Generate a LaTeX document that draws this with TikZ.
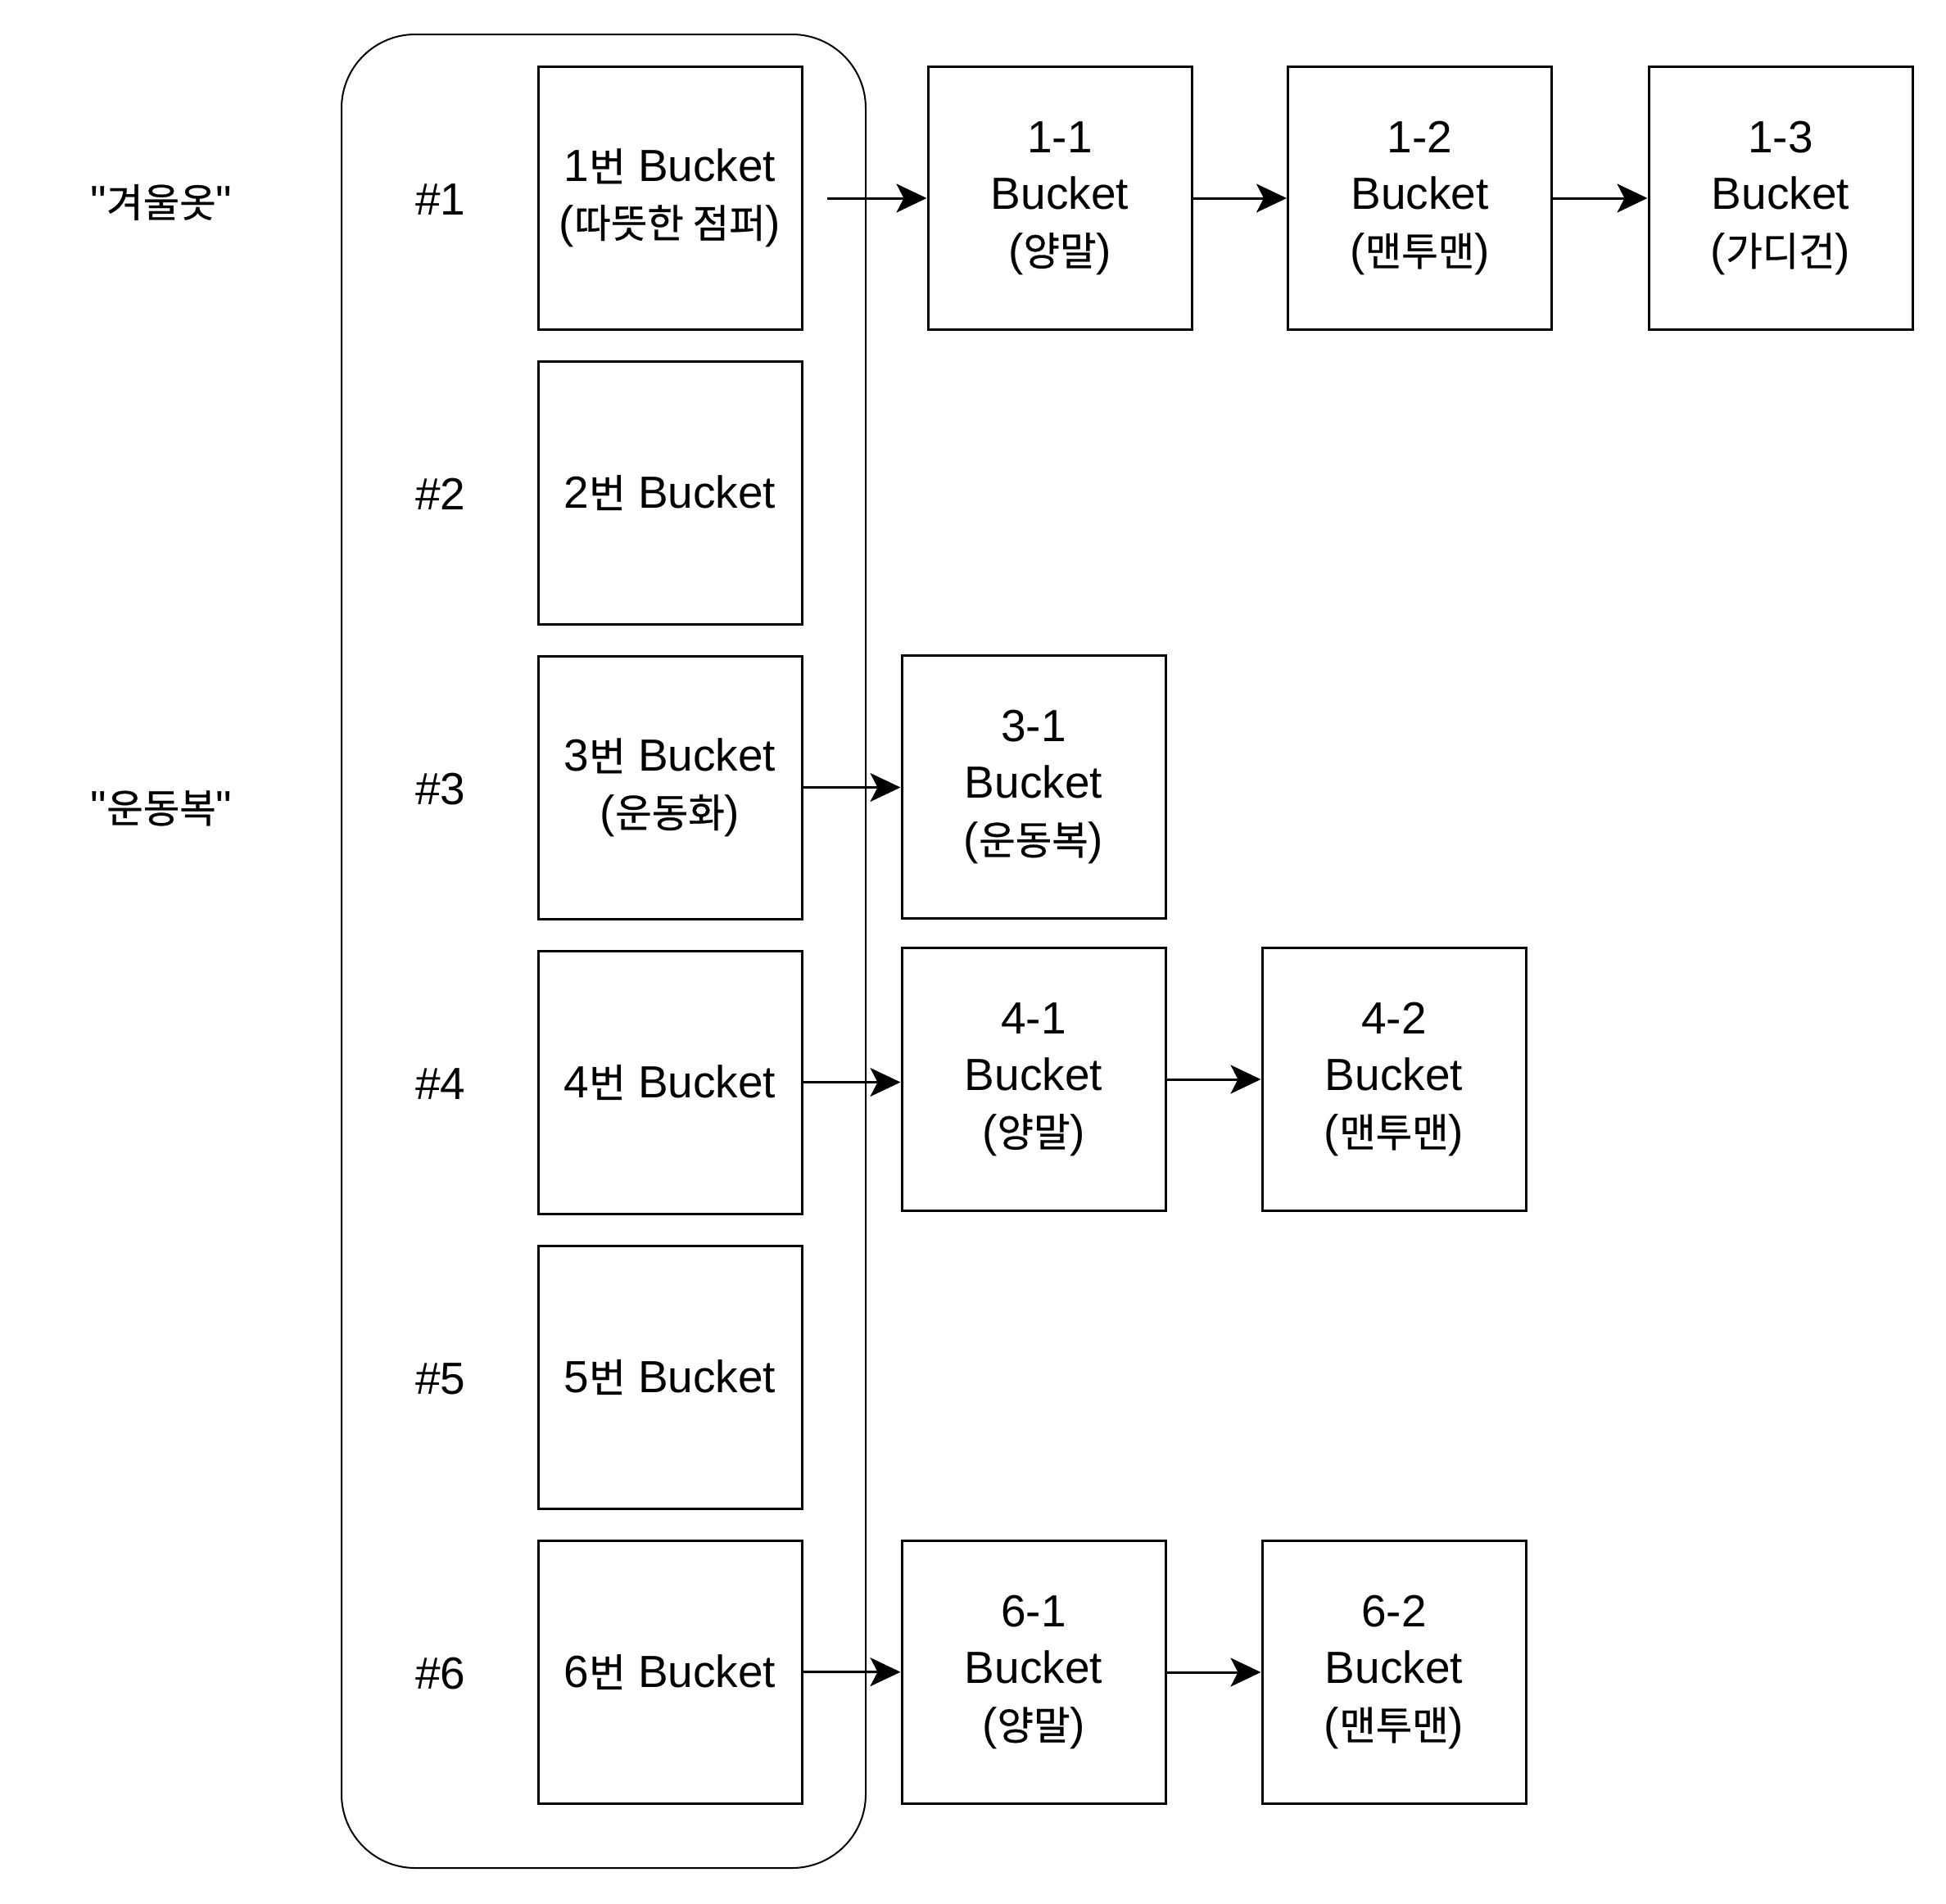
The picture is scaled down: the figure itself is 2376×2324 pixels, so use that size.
\documentclass[tikz,border=0pt]{standalone}
\usepackage{fontspec}
\setmainfont{Liberation Sans}
\newfontfamily\hangul[Scale=0.88, FakeBold=0.6]{Noto Sans CJK KR}
\usetikzlibrary{positioning, arrows.meta}

\tikzset{
  bucket/.style={draw, line width=3pt, minimum width=322pt, minimum height=321pt,
    inner sep=0pt, align=center},
  link/.style={-{Stealth[length=37pt, width=35pt, inset=9pt]}, line width=3pt},
  every node/.append style={font=\fontsize{55}{69}\selectfont}
}

\begin{document}
\begin{tikzpicture}[x=1pt, y=-1pt]
  \useasboundingbox (0,0) rectangle (2376,2324);
  % hash table
  \node[draw, line width=2pt, rounded corners=90pt, minimum width=640pt,
    minimum height=2239pt, inner sep=0pt] (pool) at (737,1161.5) {};
  \node (w) at (197,247) {\textquotedbl{\hangul 겨울옷}\textquotedbl};
  \node (s) at (197,987) {\textquotedbl{\hangul 운동복}\textquotedbl};
  \node (n1) at (538,243.5) {\#1};
  \node (n2) at (538,603.5) {\#2};
  \node (n3) at (538,963.5) {\#3};
  \node (n4) at (538,1323.5) {\#4};
  \node (n5) at (538,1683.5) {\#5};
  \node (n6) at (538,2043.5) {\#6};
  \node[bucket] (b1) at (818,241.5) {1{\hangul 번} Bucket\\({\hangul 따뜻한 점퍼})};
  \node[bucket] (b2) at (818,601.5) {2{\hangul 번} Bucket};
  \node[bucket] (b3) at (818,961.5) {3{\hangul 번} Bucket\\({\hangul 운동화})};
  \node[bucket] (b4) at (818,1321.5) {4{\hangul 번} Bucket};
  \node[bucket] (b5) at (818,1681.5) {5{\hangul 번} Bucket};
  \node[bucket] (b6) at (818,2041.5) {6{\hangul 번} Bucket};
  % chains
  \node[bucket] (b11) at (1294,242) {1-1\\Bucket\\({\hangul 양말})};
  \node[bucket] (b12) at (1733.5,242) {1-2\\Bucket\\({\hangul 맨투맨})};
  \node[bucket] (b13) at (2174,242) {1-3\\Bucket\\({\hangul 가디건})};
  \node[bucket] (b31) at (1262,961) {3-1\\Bucket\\({\hangul 운동복})};
  \node[bucket] (b41) at (1262,1318) {4-1\\Bucket\\({\hangul 양말})};
  \node[bucket] (b42) at (1702,1318) {4-2\\Bucket\\({\hangul 맨투맨})};
  \node[bucket] (b61) at (1262,2042) {6-1\\Bucket\\({\hangul 양말})};
  \node[bucket] (b62) at (1702,2042) {6-2\\Bucket\\({\hangul 맨투맨})};
  \coordinate (s1) at (1010,242);
  \draw[link] (s1) -- (b11);
  \draw[link] (b11) -- (b12);
  \draw[link] (b12) -- (b13);
  \draw[link] (b3) -- (b3 -| b31.west);
  \draw[link] (b4) ++(161,0) -- (b41.west |- b4);
  \draw[link] (b41) -- (b42);
  \draw[link] (b6.east) -- (b61);
  \draw[link] (b61) -- (b62);
\end{tikzpicture}
\end{document}
